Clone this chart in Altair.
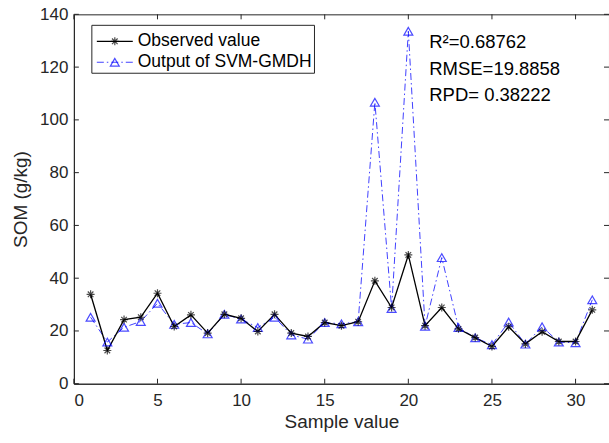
import altair as alt
import pandas as pd

samples = list(range(1, 32))
observed = [33.9, 12.6, 24.3, 25.2, 34.3, 21.7, 26.1, 19.2, 26.3, 24.8,
            19.8, 26.3, 19.2, 17.9, 23.2, 22.0, 23.5, 39.0, 28.9, 48.8,
            22.0, 28.9, 20.8, 17.5, 14.1, 21.6, 15.1, 19.7, 16.0, 16.0, 28.0]
predicted = [25.2, 15.8, 21.4, 23.6, 30.5, 22.5, 23.2, 18.9, 26.3, 24.5,
             21.3, 25.2, 18.5, 16.9, 23.2, 22.7, 23.5, 106.7, 28.5, 133.6,
             21.8, 47.8, 21.3, 17.4, 14.8, 23.4, 15.0, 21.6, 15.8, 15.5, 31.8]
x_ticks = [0, 5, 10, 15, 20, 25, 30]
y_ticks = [0, 20, 40, 60, 80, 100, 120, 140]
legend_labels = ["Observed value", "Output of SVM-GMDH"]
stats = ["R²=0.68762", "RMSE=19.8858", "RPD= 0.38222"]

W, H = 536, 370
FONT = "Liberation Sans"
TXT = "#262626"
ASTER = "M-1,0L1,0M0,-1L0,1M-0.7,-0.7L0.7,0.7M-0.7,0.7L0.7,-0.7"

df = pd.DataFrame({"x": samples, "obs": observed, "pred": predicted})

xs = alt.Scale(domain=[0, 32], nice=False)
ys = alt.Scale(domain=[0, 140], nice=False)

xax = alt.Axis(values=x_ticks, title="Sample value", grid=False, tickSize=0,
               labelPadding=9, labelFontSize=17, titleFontSize=19,
               titleFontWeight="normal", titlePadding=4, labelColor=TXT,
               titleColor=TXT, domainColor=TXT, labelFont=FONT, titleFont=FONT)
yax = alt.Axis(values=y_ticks, title="SOM (g/kg)", grid=False, tickSize=0,
               labelPadding=6, labelFontSize=17, titleFontSize=19,
               titleFontWeight="normal", titlePadding=9, labelColor=TXT,
               titleColor=TXT, domainColor=TXT, labelFont=FONT, titleFont=FONT)

base = alt.Chart(df)

pred_line = base.mark_line(color="#0000ff", strokeWidth=1, strokeDash=[7, 3, 1.5, 3],
                           opacity=0.75).encode(
    x=alt.X("x:Q", scale=xs, axis=xax), y=alt.Y("pred:Q", scale=ys, axis=yax))
obs_line = base.mark_line(color="black", strokeWidth=1.3).encode(
    x=alt.X("x:Q", scale=xs, axis=xax), y=alt.Y("obs:Q", scale=ys, axis=yax))
pred_pts = base.mark_point(shape="triangle-up", color="#0000ff", filled=False,
                           size=80, strokeWidth=1.2).encode(
    x=alt.X("x:Q", scale=xs, axis=xax), y=alt.Y("pred:Q", scale=ys, axis=yax))
obs_pts = base.mark_point(shape=ASTER, color="black", filled=False,
                          size=64, strokeWidth=1.2).encode(
    x=alt.X("x:Q", scale=xs, axis=xax), y=alt.Y("obs:Q", scale=ys, axis=yax))

# inside ticks (MATLAB style)
xt = alt.Chart(pd.DataFrame({"t": x_ticks}))
yt = alt.Chart(pd.DataFrame({"t": y_ticks}))
tick_layers = [
    xt.mark_rule(color=TXT).encode(x=alt.X("t:Q", scale=xs, axis=xax), y=alt.value(H), y2=alt.value(H - 5)),
    xt.mark_rule(color=TXT).encode(x=alt.X("t:Q", scale=xs, axis=xax), y=alt.value(0), y2=alt.value(5)),
    yt.mark_rule(color=TXT).encode(y=alt.Y("t:Q", scale=ys, axis=yax), x=alt.value(0), x2=alt.value(5)),
    yt.mark_rule(color=TXT).encode(y=alt.Y("t:Q", scale=ys, axis=yax), x=alt.value(W), x2=alt.value(W - 5)),
]

# legend box
one = alt.Chart(pd.DataFrame({"a": [0]}))
leg_box = one.mark_rect(fill="white", stroke=TXT, strokeWidth=1).encode(
    x=alt.value(18), x2=alt.value(241), y=alt.value(11), y2=alt.value(59))
leg_l1 = one.mark_rule(color="black", strokeWidth=1.3).encode(
    x=alt.value(23), x2=alt.value(59), y=alt.value(27))
leg_m1 = one.mark_point(shape=ASTER, color="black", filled=False, size=64, strokeWidth=1.2).encode(
    x=alt.value(41), y=alt.value(27))
leg_l2 = one.mark_rule(color="#0000ff", strokeWidth=1, strokeDash=[7, 3, 1.5, 3], opacity=0.75).encode(
    x=alt.value(23), x2=alt.value(59), y=alt.value(48))
leg_m2 = one.mark_point(shape="triangle-up", color="#0000ff", filled=False, size=80, strokeWidth=1.2).encode(
    x=alt.value(41), y=alt.value(48))
leg_t1 = one.mark_text(text=legend_labels[0], align="left", baseline="middle", fontSize=17.5,
                       font=FONT, color="black").encode(x=alt.value(64), y=alt.value(27))
leg_t2 = one.mark_text(text=legend_labels[1], align="left", baseline="middle", fontSize=17.5,
                       font=FONT, color="black").encode(x=alt.value(64), y=alt.value(48))

stat_layers = [
    one.mark_text(text=s, align="left", baseline="middle", fontSize=18.5, font=FONT,
                  color="black").encode(x=alt.value(356), y=alt.value(yy))
    for s, yy in zip(stats, [28, 55, 81])
]

chart = alt.layer(
    pred_line, obs_line, pred_pts, obs_pts, *tick_layers,
    leg_box, leg_l1, leg_m1, leg_l2, leg_m2, leg_t1, leg_t2, *stat_layers
).properties(
    width=W, height=H,
    autosize=alt.AutoSizeParams(type="none"),
    padding={"left": 74, "top": 14, "right": 0, "bottom": 59},
    background="white",
).configure_view(stroke=TXT, strokeWidth=1)

chart.save("out.html", embed_options={"renderer": "svg", "actions": False})
